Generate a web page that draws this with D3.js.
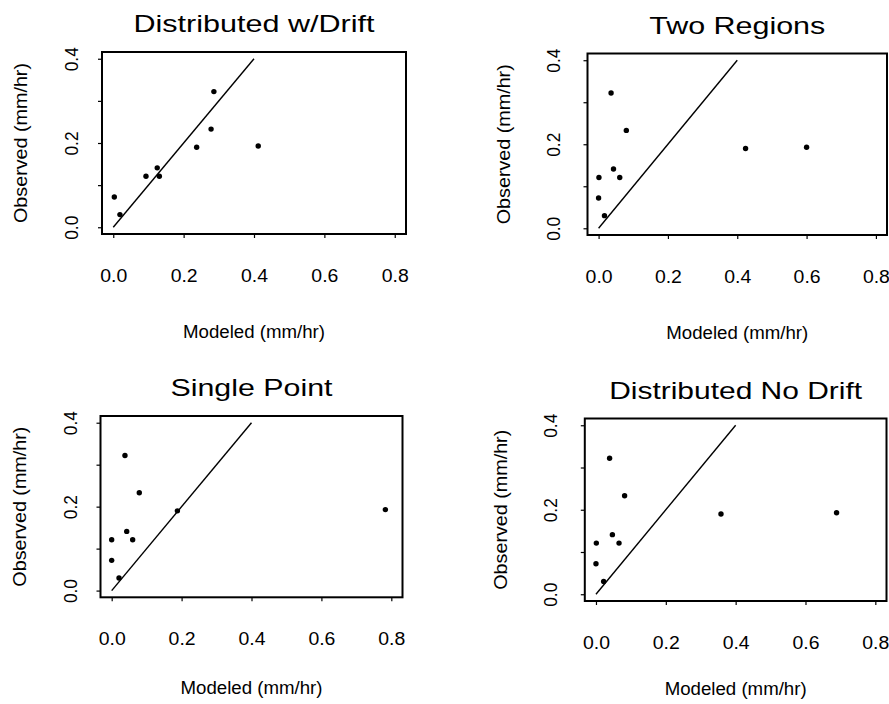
<!DOCTYPE html>
<meta charset="utf-8">
<style>
body {
  margin: 0;
  background: #fff;
}
svg text {
  font-family: "Liberation Sans", Arial, sans-serif;
  fill: #000;
}
.axis path {
  display: none;
}
.axis line {
  stroke: #000;
  stroke-width: 1.2px;
}
</style>
<body>
<svg width="889" height="704"></svg>
<script src="https://cdn.jsdelivr.net/npm/d3@7"></script>
<script>
// values
var titles = ["Distributed w/Drift", "Two Regions", "Single Point", "Distributed No Drift"];
var observed = [0.030, 0.072, 0.121, 0.121, 0.141, 0.190, 0.193, 0.233, 0.322];
var modeledDrift    = [0.019, 0.003, 0.093, 0.131, 0.125, 0.237, 0.412, 0.278, 0.286];
var modeledTwoReg   = [0.017, 0.000, 0.001, 0.061, 0.043, 0.424, 0.600, 0.080, 0.036];
var modeledSingle   = [0.021, 0.000, 0.000, 0.060, 0.043, 0.188, 0.783, 0.079, 0.038];
var modeledNoDrift  = [0.022, 0.000, 0.001, 0.066, 0.047, 0.358, 0.689, 0.082, 0.039];
var xTicks = [0, 0.2, 0.4, 0.6, 0.8];
var yTicks = [0, 0.1, 0.2, 0.3, 0.4];
var yLabelTicks = [0, 0.2, 0.4];
var oneToOne = [0, 0.4];

var modeled = [modeledDrift, modeledTwoReg, modeledSingle, modeledNoDrift];

// plot boxes (left, top, right, bottom), title widths and label offsets
var boxes = [
  {l: 102, t: 52, r: 406, b: 234, tw: 241, yt: -24, yl: -75, xl: 104},
  {l: 587.5, t: 53.5, r: 887, b: 235, tw: 176, yt: -28, yl: -78, xl: 104},
  {l: 100.5, t: 416, r: 402.5, b: 597.3, tw: 162, yt: -24, yl: -75, xl: 97},
  {l: 584.8, t: 418.5, r: 886.5, b: 601, tw: 253, yt: -28, yl: -78, xl: 94}
];

var svg = d3.select("svg");
var fmt = d3.format(".1f");

boxes.forEach(function(bx, i) {
  var w = bx.r - bx.l, h = bx.b - bx.t;
  // R style 4% padding on both axes
  var x = d3.scaleLinear().domain([-0.032, 0.832]).range([0, w]);
  var y = d3.scaleLinear().domain([-0.016, 0.416]).range([h, 0]);

  var g = svg.append("g")
      .attr("transform", "translate(" + bx.l + "," + bx.t + ")");

  // box round the plot region
  g.append("rect")
      .attr("x", 0)
      .attr("y", 0)
      .attr("width", w)
      .attr("height", h)
      .style("fill", "none")
      .style("stroke", "black")
      .style("stroke-width", "2px");

  // x axis
  var gx = g.append("g")
      .attr("class", "axis")
      .attr("transform", "translate(0," + h + ")")
      .call(d3.axisBottom(x).tickValues(xTicks).tickSize(4).tickSizeOuter(0).tickFormat(fmt));
  gx.selectAll("text")
      .attr("y", 48)
      .attr("dy", null)
      .style("font-size", "18px")
      .attr("textLength", 27)
      .attr("lengthAdjust", "spacingAndGlyphs");

  // y axis, labels only at 0.0 0.2 0.4, rotated like R
  var gy = g.append("g")
      .attr("class", "axis")
      .call(d3.axisLeft(y).tickValues(yTicks).tickSize(4).tickSizeOuter(0)
        .tickFormat(function(d) { return yLabelTicks.indexOf(d) >= 0 ? fmt(d) : ""; }));
  gy.selectAll("text")
      .attr("x", null)
      .attr("dy", null)
      .attr("text-anchor", "middle")
      .attr("transform", "translate(" + bx.yt + ",0) rotate(-90)")
      .style("font-size", "18px")
      .attr("textLength", function(d) { return yLabelTicks.indexOf(d) >= 0 ? 24 : null; })
      .attr("lengthAdjust", "spacingAndGlyphs");

  // 1:1 line
  g.append("line")
      .attr("x1", x(oneToOne[0]))
      .attr("y1", y(oneToOne[0]))
      .attr("x2", x(oneToOne[1]))
      .attr("y2", y(oneToOne[1]))
      .attr("stroke", "#000")
      .attr("stroke-width", 1.4);

  // points
  g.selectAll(".dot")
    .data(observed.map(function(o, j) { return {obs: o, mod: modeled[i][j]}; }))
    .enter().append("circle")
      .attr("class", "dot")
      .attr("cx", function(d) { return x(d.mod); })
      .attr("cy", function(d) { return y(d.obs); })
      .attr("r", 2.7)
      .attr("fill", "#000");

  // title
  g.append("text")
      .attr("x", w / 2)
      .attr("y", -20)
      .attr("text-anchor", "middle")
      .style("font-size", "24px")
      .attr("textLength", bx.tw)
      .attr("lengthAdjust", "spacingAndGlyphs")
      .text(titles[i]);

  // axis titles
  g.append("text")
      .attr("x", w / 2)
      .attr("y", h + bx.xl)
      .attr("text-anchor", "middle")
      .style("font-size", "18px")
      .attr("textLength", 142)
      .attr("lengthAdjust", "spacingAndGlyphs")
      .text("Modeled (mm/hr)");

  g.append("text")
      .attr("transform", "translate(" + bx.yl + "," + (h / 2) + ") rotate(-90)")
      .attr("text-anchor", "middle")
      .style("font-size", "19px")
      .attr("textLength", 160)
      .attr("lengthAdjust", "spacingAndGlyphs")
      .text("Observed (mm/hr)");
});
</script>
</body>
